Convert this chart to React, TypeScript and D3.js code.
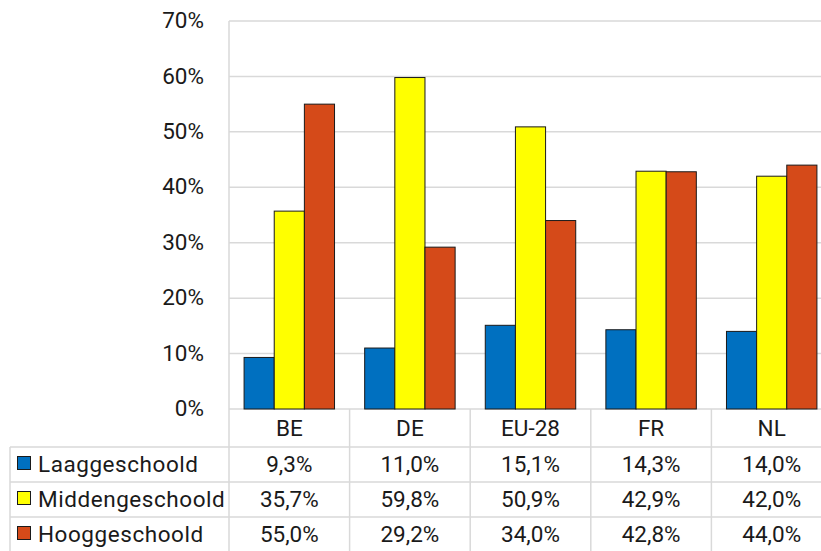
import React from "react";
import * as d3 from "d3";

const categories = ["BE", "DE", "EU-28", "FR", "NL"];
const seriesNames = ["Laaggeschoold", "Middengeschoold", "Hooggeschoold"];
const laag = [9.3, 11.0, 15.1, 14.3, 14.0];
const midden = [35.7, 59.8, 50.9, 42.9, 42.0];
const hoog = [55.0, 29.2, 34.0, 42.8, 44.0];
const yTicks = [0, 10, 20, 30, 40, 50, 60, 70];
const colors = ["#0070c0", "#ffff00", "#d54a19"];

const W = 821;
const H = 551;
const left = 229;
const right = 832;
const top = 21;
const bottom = 409;
const rowLines = [447, 482, 517, 552];
const tableLeft = 10;

export default function App() {
  const series = [laag, midden, hoog];
  const x = d3.scaleBand<string>().domain(categories).range([left, right]).paddingInner(0).paddingOuter(0);
  const inner = d3.scaleBand<number>().domain([0, 1, 2]).range([0, x.bandwidth()]).paddingOuter(0.5).paddingInner(0);
  const y = d3.scaleLinear().domain([0, 70]).range([bottom, top]);
  const fmt = (v: number) => v.toFixed(1).replace(".", ",") + "%";
  const font = "Roboto, sans-serif";
  const fs = 22.5;
  const grid = "#d9d9d9";
  return (
    <svg width={W} height={H} style={{ position: "absolute", left: 0, top: 0, background: "#fff" }}>
      {yTicks.map((t) => (
        <g key={t}>
          <line x1={left} x2={right} y1={y(t)} y2={y(t)} stroke={grid} strokeWidth={1.5} />
          <text x={204} y={y(t) - 1} dy="0.36em" textAnchor="end" fontFamily={font} fontSize={fs} fill="#1a1a1a">
            {t}%
          </text>
        </g>
      ))}
      <line x1={left} x2={left} y1={top} y2={H} stroke={grid} strokeWidth={1.5} />
      {categories.map((c) => (
        <line key={c} x1={(x(c) as number) + x.bandwidth()} x2={(x(c) as number) + x.bandwidth()} y1={bottom} y2={H} stroke={grid} strokeWidth={1.5} />
      ))}
      {rowLines.map((r) => (
        <line key={r} x1={tableLeft} x2={right} y1={r} y2={r} stroke={grid} strokeWidth={1.5} />
      ))}
      <line x1={tableLeft} x2={tableLeft} y1={rowLines[0]} y2={H} stroke={grid} strokeWidth={1.5} />
      {series.map((vals, s) =>
        categories.map((c, i) => {
          const bx = (x(c) as number) + (inner(s) as number);
          return (
            <rect key={s + "-" + c} x={bx} y={y(vals[i])} width={inner.bandwidth()} height={bottom - y(vals[i])} fill={colors[s]} stroke="#1a1a1a" strokeWidth={1} />
          );
        })
      )}
      {categories.map((c) => (
        <text key={c} x={(x(c) as number) + x.bandwidth() / 2} y={(bottom + rowLines[0]) / 2} dy="0.36em" textAnchor="middle" fontFamily={font} fontSize={fs} fill="#1a1a1a">
          {c}
        </text>
      ))}
      {series.map((vals, s) => {
        const cy = (rowLines[s] + rowLines[s + 1]) / 2 - 1;
        return (
          <g key={seriesNames[s]}>
            <rect x={17.5} y={cy - 7} width={13} height={13} fill={colors[s]} stroke="#1a1a1a" strokeWidth={1} />
            <text x={38} y={cy} dy="0.36em" fontFamily={font} fontSize={fs} letterSpacing={0.55} fill="#1a1a1a">
              {seriesNames[s]}
            </text>
            {categories.map((c, i) => (
              <text key={c} x={(x(c) as number) + x.bandwidth() / 2} y={cy} dy="0.36em" textAnchor="middle" fontFamily={font} fontSize={fs} fill="#1a1a1a">
                {fmt(vals[i])}
              </text>
            ))}
          </g>
        );
      })}
    </svg>
  );
}
